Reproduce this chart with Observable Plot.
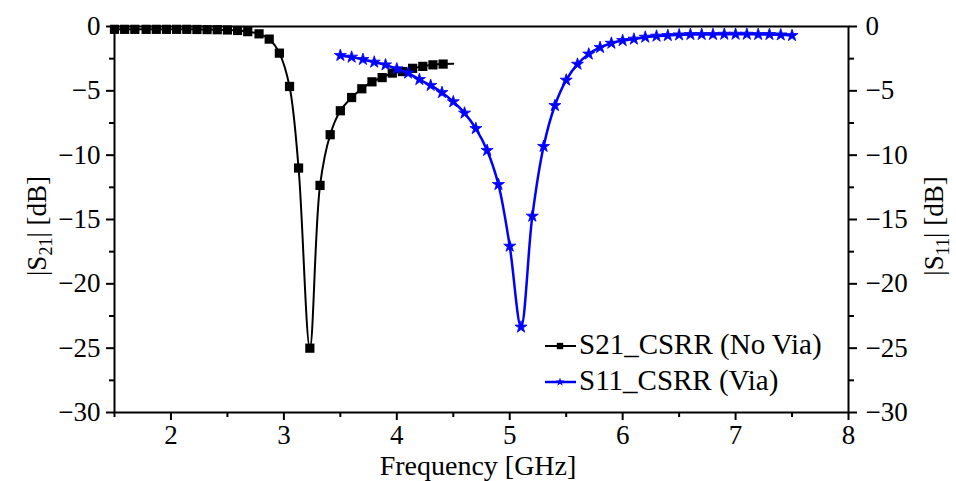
<!DOCTYPE html>
<html>
<head>
<meta charset="utf-8">
<script src="https://cdn.jsdelivr.net/npm/d3@7"></script>
<script src="https://cdn.jsdelivr.net/npm/@observablehq/plot@0.6"></script>
<style>
  html, body { margin: 0; padding: 0; background: #fff; }
  svg { display: block; }
  #chart svg, #chart svg text, #chart svg tspan { font-family: "Liberation Serif", "Times New Roman", serif !important; }
</style>
</head>
<body>
<div id="chart"></div>
<script>
// S21_CSRR (No Via) — marker positions (GHz, dB)
const s21Freq = [1.50, 1.59, 1.68, 1.78, 1.87, 1.96, 2.05, 2.14, 2.23, 2.32, 2.41, 2.50, 2.59, 2.68, 2.78, 2.87, 2.96,
                 3.05, 3.13, 3.23, 3.32, 3.41, 3.50, 3.60, 3.69, 3.78, 3.87, 3.96, 4.05, 4.14, 4.23, 4.32, 4.41];
const s21Val  = [-0.22, -0.22, -0.22, -0.22, -0.22, -0.22, -0.22, -0.22, -0.23, -0.24, -0.25, -0.27, -0.31, -0.40, -0.57, -0.98, -2.07,
                 -4.66, -11.0, -25.0, -12.35, -8.41, -6.55, -5.52, -4.84, -4.30, -3.97, -3.62, -3.50, -3.25, -3.10, -2.98, -2.92];
// end of the S21 trace (no marker)
const s21EndFreq = 4.50;
const s21EndVal = -2.90;

// S11_CSRR (Via)
const s11Freq = [3.5, 3.6, 3.7, 3.8, 3.9, 4.0, 4.1, 4.2, 4.3, 4.4, 4.5, 4.6, 4.7, 4.8, 4.9, 5.0, 5.1, 5.2, 5.3, 5.4,
                 5.5, 5.6, 5.7, 5.8, 5.9, 6.0, 6.1, 6.2, 6.3, 6.4, 6.5, 6.6, 6.7, 6.8, 6.9, 7.0, 7.1, 7.2, 7.3, 7.4, 7.5];
const s11Val  = [-2.25, -2.38, -2.56, -2.77, -2.98, -3.29, -3.62, -4.12, -4.58, -5.13, -5.85, -6.73, -7.93, -9.63, -12.28,
                 -17.07, -23.36, -14.74, -9.32, -6.14, -4.17, -2.93, -2.14, -1.63, -1.30, -1.09, -0.98, -0.83, -0.75, -0.70,
                 -0.65, -0.62, -0.62, -0.62, -0.60, -0.60, -0.60, -0.62, -0.62, -0.65, -0.70];

const xMajorTicks = [2, 3, 4, 5, 6, 7, 8];
const xMinorTicks = [1.5, 2.5, 3.5, 4.5, 5.5, 6.5, 7.5];
const yMajorTicks = [0, -5, -10, -15, -20, -25, -30];
const yMinorTicks = [-2.5, -7.5, -12.5, -17.5, -22.5, -27.5];

const seriesNames = ["S21_CSRR (No Via)", "S11_CSRR (Via)"];
const xTitle = "Frequency [GHz]";

const s21Markers = s21Freq.map((f, i) => ({f, v: s21Val[i]}));
const s21Line = s21Markers.concat([{f: s21EndFreq, v: s21EndVal}]);
const s11 = s11Freq.map((f, i) => ({f, v: s11Val[i]}));

const BLUE = "#0000ff";
const FONT = "Liberation Serif, Times New Roman, serif";
const yFmt = d => d < 0 ? "\u2212" + Math.abs(d) : String(d);

const svg = Plot.plot({
  width: 956,
  height: 481,
  marginLeft: 114,
  marginRight: 108,
  marginTop: 26,
  marginBottom: 69,
  style: {fontFamily: FONT, fontSize: "27px", color: "black", background: "white", overflow: "visible"},
  x: {domain: [1.5, 8]},
  y: {domain: [-30, 0]},
  marks: [
    Plot.axisX({ticks: xMinorTicks, tickSize: 5, tickFormat: () => "", strokeWidth: 2, label: null}),
    Plot.axisX({ticks: xMajorTicks, tickSize: 8, tickPadding: 4, tickFormat: d => String(d), strokeWidth: 2, label: null, fontSize: 27}),
    Plot.axisY({anchor: "left", ticks: yMinorTicks, tickSize: 5, tickFormat: () => "", strokeWidth: 2, label: null}),
    Plot.axisY({anchor: "left", ticks: yMajorTicks, tickSize: 8, tickPadding: 6, tickFormat: yFmt, strokeWidth: 2, label: null, fontSize: 27}),
    Plot.axisY({anchor: "right", ticks: yMinorTicks, tickSize: 5, tickFormat: () => "", strokeWidth: 2, label: null}),
    Plot.axisY({anchor: "right", ticks: yMajorTicks, tickSize: 8, tickPadding: 9, tickFormat: yFmt, strokeWidth: 2, label: null, fontSize: 27}),
    Plot.line(s21Line, {x: "f", y: "v", curve: "catmull-rom", stroke: "black", strokeWidth: 2}),
    Plot.dot(s21Markers, {x: "f", y: "v", symbol: "square", r: 5.2, fill: "black", stroke: "none"}),
    Plot.line(s11, {x: "f", y: "v", curve: "catmull-rom", stroke: BLUE, strokeWidth: 2.5}),
    Plot.dot(s11, {x: "f", y: "v", symbol: "star", r: 3.8, fill: BLUE, stroke: BLUE, strokeWidth: 0.8}),
    Plot.frame({stroke: "black", strokeWidth: 2})
  ]
});

const root = d3.select(svg);

// x-axis title
root.append("text")
  .attr("x", 478).attr("y", 475)
  .attr("text-anchor", "middle")
  .attr("font-size", 28)
  .attr("fill", "black")
  .text(xTitle);

// y-axis titles with subscripts
function yTitle(cx, cy, sub) {
  const t = root.append("text")
    .attr("transform", `translate(${cx},${cy}) rotate(-90)`)
    .attr("text-anchor", "middle")
    .attr("font-size", 27)
    .attr("fill", "black");
  t.append("tspan").text("|S");
  t.append("tspan").attr("font-size", 18).attr("dy", 6).text(sub);
  t.append("tspan").attr("dy", -6).text("| [dB]");
}
yTitle(46, 226, "21");
yTitle(943, 226, "11");

// legend
const legend = root.append("g").attr("font-size", 29).attr("fill", "black").attr("text-anchor", "start");
const rows = [
  {y: 346, color: "black", symbol: d3.symbolSquare, size: 40, name: seriesNames[0], w: 2},
  {y: 382, color: BLUE, symbol: d3.symbolStar, size: 24, name: seriesNames[1], w: 2.5}
];
rows.forEach(r => {
  legend.append("line").attr("x1", 545).attr("x2", 576).attr("y1", r.y).attr("y2", r.y)
    .attr("stroke", r.color).attr("stroke-width", r.w);
  legend.append("path").attr("d", d3.symbol(r.symbol, r.size)())
    .attr("transform", `translate(560,${r.y})`).attr("fill", r.color);
  legend.append("text").attr("x", 579).attr("y", r.y + 8).attr("text-anchor", "start").text(r.name);
});

document.getElementById("chart").appendChild(svg);
</script>
</body>
</html>
